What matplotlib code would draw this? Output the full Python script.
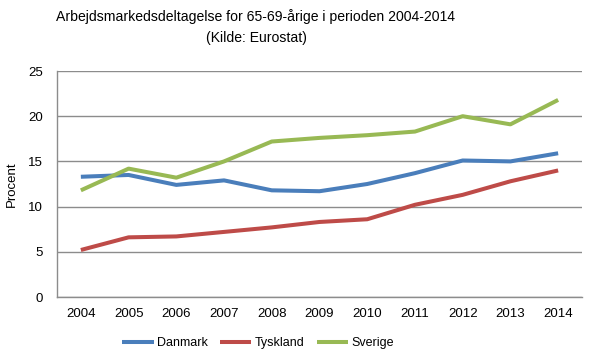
import matplotlib
matplotlib.use("Agg")
import matplotlib.pyplot as plt

years = ["2004", "2005", "2006", "2007", "2008", "2009", "2010", "2011", "2012", "2013", "2014"]
danmark = [13.3, 13.5, 12.4, 12.9, 11.8, 11.7, 12.5, 13.7, 15.1, 15.0, 15.9]
tyskland = [5.2, 6.6, 6.7, 7.2, 7.7, 8.3, 8.6, 10.2, 11.3, 12.8, 14.0]
sverige = [11.8, 14.2, 13.2, 15.0, 17.2, 17.6, 17.9, 18.3, 20.0, 19.1, 21.8]
series_names = ["Danmark", "Tyskland", "Sverige"]
colors = ["#4A7EBB", "#BE4B48", "#98B954"]

plt.rcParams['font.family'] = ['Liberation Sans', 'DejaVu Sans']

fig = plt.figure(figsize=(6, 3.64), dpi=100)
ax = fig.add_axes([57/600, 1-297/364, (582-57)/600, (297-71)/364])

x = list(range(len(years)))
for vals, name, c in zip([danmark, tyskland, sverige], series_names, colors):
    ax.plot(x, vals, color=c, lw=2.9, label=name, solid_capstyle='butt')

ax.set_xlim(-0.5, len(years) - 0.5)
ax.set_ylim(0, 25)
ax.set_yticks([0, 5, 10, 15, 20, 25])
ax.set_xticks(x)
ax.set_xticklabels(years)
ax.tick_params(axis='both', length=0, labelsize=9.5, colors='black')
ax.tick_params(axis='x', pad=8)
ax.tick_params(axis='y', pad=10)
ax.yaxis.grid(True, color='#8C8C8C', lw=1)
ax.set_axisbelow(True)
for s in ['top', 'right']:
    ax.spines[s].set_visible(False)
for s in ['left', 'bottom']:
    ax.spines[s].set_color('#8C8C8C')
    ax.spines[s].set_linewidth(1)
ax.set_ylabel("Procent", fontsize=9.5)
ax.yaxis.set_label_coords(-(57-18)/525, 0.5)

fig.text(256/600, 1-17/364, "Arbejdsmarkedsdeltagelse for 65-69-årige i perioden 2004-2014",
         ha='center', va='center', fontsize=10.1)
fig.text(256/600, 1-38/364, "(Kilde: Eurostat)", ha='center', va='center', fontsize=10.1)

fig.legend(loc='center', bbox_to_anchor=(258/600, 1-343/364), ncol=3, frameon=False,
           fontsize=9.0, handlelength=2.5, handletextpad=0.25, columnspacing=1.0)

fig.savefig("out.png", dpi=100)
